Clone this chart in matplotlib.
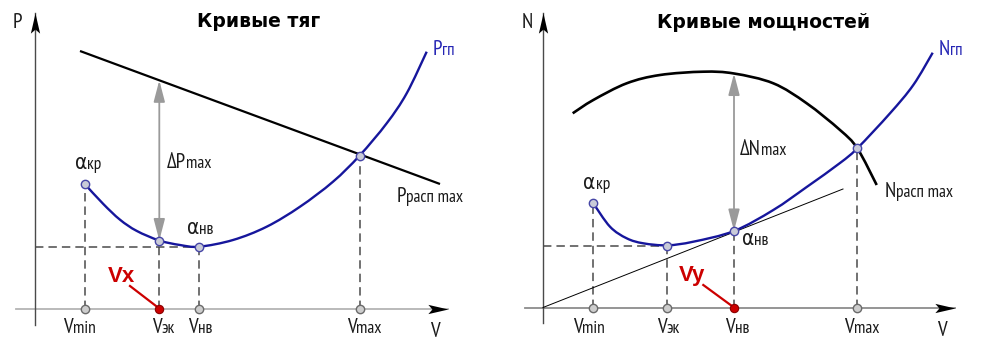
import matplotlib
matplotlib.use("Agg")
import matplotlib.pyplot as plt
import numpy as np
from matplotlib.markers import MarkerStyle
from matplotlib.patches import FancyArrowPatch, PathPatch
from matplotlib.path import Path

BLUE = "#16169c"
BLUE_TEXT = "#2525b4"
RED = "#cc0000"
GREY_ARROW = "#9a9a9a"
DASH = "#4a4a4a"
LABEL_FONT = ["PT Sans Narrow", "DejaVu Sans"]

# ---- thrust curves (P vs V), arbitrary units ----
P_V = [5.0, 6.83, 8.5, 10.17, 12.43, 14.5, 16.43, 19.8, 23.17, 26.5, 29.8, 32.45, 35.17, 37.17, 39.17]
P_GP = [12.42, 10.45, 8.88, 7.76, 6.8, 6.35, 6.18, 6.85, 8.18, 10.18, 12.68, 15.28, 18.52, 21.52, 25.68]
P_AVAIL_V = [4.5, 40.5]
P_AVAIL = [25.75, 12.45]
P_KEY_V = [5.0, 12.43, 16.43, 32.45]      # Vmin, Vэк, Vнв, Vmax
P_KEY = [12.42, 6.8, 6.18, 15.28]
P_DELTA_TOP = 22.82                         # P_расп at Vэк

# ---- power curves (N vs V) ----
N_V = [5.03, 6.7, 8.37, 10.03, 12.43, 15.03, 19.1, 23.03, 26.37, 29.7, 31.43, 34.7, 37.03, 38.97]
N_GP = [10.42, 8.08, 6.92, 6.42, 6.22, 6.58, 7.65, 9.75, 12.05, 14.45, 15.92, 19.42, 22.25, 25.48]
N_AVAIL_V = [2.97, 5.03, 8.37, 11.7, 16.03, 19.1, 23.03, 26.37, 29.7, 31.43, 33.37]
N_AVAIL = [19.42, 20.75, 22.42, 23.25, 23.58, 23.4, 22.42, 20.42, 17.75, 15.92, 12.25]
N_TANGENT_V = [0.0, 30.0]
N_TANGENT = [0.0, 11.85]
N_KEY_V = [5.03, 12.43, 19.1, 31.43]
N_KEY = [10.42, 6.2, 7.65, 15.92]
N_DELTA_TOP = 23.4

HEAD = Path([(0, 0), (-1, 0.23), (-0.8, 0), (-1, -0.23), (0, 0)],
            [Path.MOVETO, Path.LINETO, Path.LINETO, Path.LINETO, Path.CLOSEPOLY])


def smooth_path(xs, ys):
    """Catmull-Rom through the points, as cubic Bezier segments."""
    pts = np.column_stack([xs, ys]).astype(float)
    verts, codes = [pts[0]], [Path.MOVETO]
    for i in range(len(pts) - 1):
        p0 = pts[i - 1] if i > 0 else pts[i]
        p1, p2 = pts[i], pts[i + 1]
        p3 = pts[i + 2] if i + 2 < len(pts) else pts[i + 1]
        verts += [p1 + (p2 - p0) / 6, p2 - (p3 - p1) / 6, p2]
        codes += [Path.CURVE4] * 3
    return Path(verts, codes)


def label(ax, x, y, main, sub="", color="#1a1a1a"):
    t = ax.text(x, y, main, fontsize=15, family=LABEL_FONT, fontstretch="condensed",
                color=color, ha="left", va="baseline")
    if sub:
        ax.annotate(sub, xy=(1, 0), xycoords=t, fontsize=12.5, family=LABEL_FONT,
                    color=color, ha="left", va="bottom")
    return t


def axes_frame(ax, x0, x1, y0, y1, xcolor):
    ax.plot([x0, x1], [0, 0], color=xcolor, lw=1.3, zorder=1)
    ax.plot([0, 0], [y0, y1], color="#4a4a4a", lw=1.0, zorder=1)
    ax.plot([x1], [0], marker=MarkerStyle(HEAD), ms=29, color="black", mew=0, zorder=3)
    ax.plot([0], [y1], marker=MarkerStyle(HEAD).rotated(deg=90), ms=29, color="black",
            mew=0, zorder=3)


def guides(ax, key_v, key_y, h_idx):
    for v, y in zip(key_v, key_y):
        ax.plot([v, v], [0, y], color=DASH, lw=1.1, ls=(0, (5.5, 3.3)), zorder=1)
    ax.plot([0, key_v[h_idx]], [key_y[h_idx]] * 2, color=DASH, lw=1.1,
            ls=(0, (5.5, 3.3)), zorder=1)


def markers(ax, key_v, key_y, red_idx):
    ax.plot(key_v, key_y, "o", ms=6, mfc="#c9cbd8", mec="#4646a6", mew=1.0, zorder=5)
    grey = [v for i, v in enumerate(key_v) if i != red_idx]
    ax.plot(grey, [0] * len(grey), "o", ms=6, mfc="#cdcdcd", mec="#6a6a6a", mew=1.0, zorder=5)
    ax.plot([key_v[red_idx]], [0], "o", ms=6, mfc=RED, mec="#8a0000", mew=0.8, zorder=6)


def delta_arrow(ax, v, top, bottom):
    ax.add_patch(FancyArrowPatch((v, top), (v, bottom),
                                 arrowstyle="<|-|>,head_length=13,head_width=3.4",
                                 mutation_scale=1, color=GREY_ARROW, lw=1.3,
                                 shrinkA=0, shrinkB=0, zorder=2))


fig = plt.figure(figsize=(9.83, 3.48), dpi=100)
fig.patch.set_facecolor("white")

# left panel: thrust
ax = fig.add_axes([0, 0, 491 / 983, 1])
ax.set_xlim(-3.5, 45.6)
ax.set_ylim(-3.95, 30.85)
ax.axis("off")
axes_frame(ax, -1.9, 41.33, -1.65, 29.58, "#b4b4b4")
guides(ax, P_KEY_V, P_KEY, 2)
ax.plot(P_AVAIL_V, P_AVAIL, color="black", lw=1.6, solid_capstyle="butt", zorder=3)
ax.add_patch(PathPatch(smooth_path(P_V, P_GP), fill=False, ec=BLUE, lw=1.7, zorder=4))
delta_arrow(ax, P_KEY_V[1], P_DELTA_TOP, P_KEY[1])
markers(ax, P_KEY_V, P_KEY, 1)
ax.plot([9.5, P_KEY_V[1]], [2.25, 0], color=RED, lw=1.6, zorder=4)
ax.text(7.3, 2.68, "Vx", fontsize=16, family="Liberation Sans", weight="bold",
        color=RED, ha="left", va="baseline")
ax.text(22.4, 28.18, "Кривые тяг", fontsize=13.5, family="DejaVu Sans", weight="bold",
        ha="center", va="baseline")
label(ax, -2.23, 28.02, "P")
label(ax, 39.77, 25.35, "P", "гп", color=BLUE_TEXT)
label(ax, 36.17, 10.68, "P", "расп max")
label(ax, 13.17, 14.02, "ΔP", "max")
label(ax, 4.0, 13.92, "α", "кр")
label(ax, 15.17, 7.45, "α", "нв")
for x, sub in zip([2.83, 11.67, 15.33, 31.17], ["min", "эк", "нв", "max"]):
    label(ax, x, -2.45, "V", sub)
label(ax, 39.5, -2.85, "V")

# right panel: power
ax = fig.add_axes([491 / 983, 0, 492 / 983, 1])
ax.set_xlim(-5.2, 44.0)
ax.set_ylim(-4.05, 30.75)
ax.axis("off")
axes_frame(ax, -1.8, 41.2, -1.55, 29.42, "#8c8c8c")
guides(ax, N_KEY_V, N_KEY, 1)
ax.plot(N_TANGENT_V, N_TANGENT, color="black", lw=0.7, zorder=2)
ax.add_patch(PathPatch(smooth_path(N_AVAIL_V, N_AVAIL), fill=False, ec="black", lw=1.9,
                       zorder=3))
ax.add_patch(PathPatch(smooth_path(N_V, N_GP), fill=False, ec=BLUE, lw=1.7, zorder=4))
delta_arrow(ax, N_KEY_V[2], N_DELTA_TOP, N_KEY[2])
markers(ax, N_KEY_V, N_KEY, 2)
ax.plot([16.03, N_KEY_V[2]], [2.25, 0], color=RED, lw=1.6, zorder=4)
ax.text(13.6, 2.6, "Vy", fontsize=16, family="Liberation Sans", weight="bold",
        color=RED, ha="left", va="baseline")
ax.text(22.08, 27.92, "Кривые мощностей", fontsize=13.5, family="DejaVu Sans",
        weight="bold", ha="center", va="baseline")
label(ax, -2.13, 27.92, "N")
label(ax, 39.53, 25.25, "N", "гп", color=BLUE_TEXT)
label(ax, 34.2, 11.02, "N", "расп max")
label(ax, 19.7, 15.25, "ΔN", "max")
label(ax, 4.03, 11.8, "α", "кр")
label(ax, 19.87, 6.25, "α", "нв")
for x, sub in zip([2.97, 11.37, 18.2, 30.13], ["min", "эк", "нв", "max"]):
    label(ax, x, -2.58, "V", sub)
label(ax, 39.37, -2.85, "V")

fig.savefig("out.png", dpi=100)
